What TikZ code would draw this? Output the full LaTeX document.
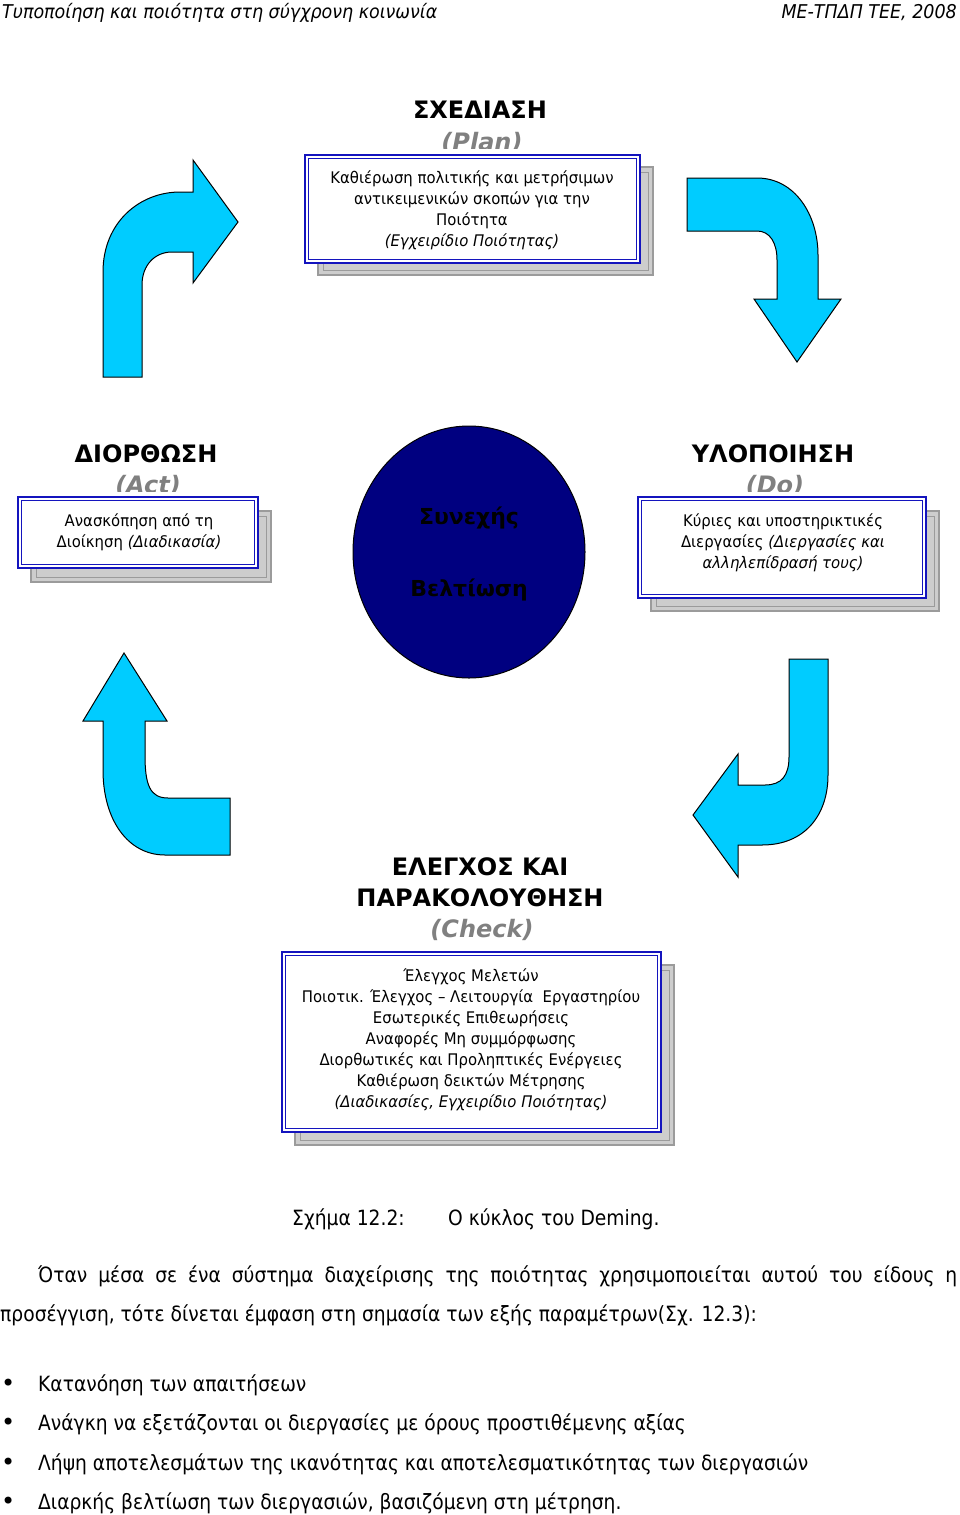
\documentclass[tikz,border=0pt]{standalone}
\usepackage{fontspec}
\setmainfont{DejaVu Sans}
\newfontfamily\condfont[FakeStretch=0.89]{DejaVu Sans}
\newfontfamily\headfont[FakeStretch=0.92]{DejaVu Sans}
\newfontfamily\boxfont[FakeStretch=0.93]{DejaVu Sans}
\usetikzlibrary{shapes.geometric}
\definecolor{arrowcyan}{RGB}{0,204,255}
\definecolor{boxblue}{RGB}{20,20,190}
\definecolor{navycirc}{RGB}{0,0,128}
\definecolor{engray}{RGB}{128,128,128}
\definecolor{shadowfill}{RGB}{205,205,205}
\definecolor{shadowline}{RGB}{155,155,155}
\tikzset{
  cyclearrow/.style={fill=arrowcyan, draw=black, line width=1pt, line join=miter},
  bluebox/.style={draw=boxblue, line width=2.6pt, fill=white, inner sep=0pt},
  innerline/.style={draw=boxblue, line width=1.2pt},
  shadowbox/.style={fill=shadowfill, draw=shadowline, line width=2.2pt},
  shadowinner/.style={draw=shadowline, line width=1pt},
  phasetitle/.style={font=\fontsize{24}{29}\selectfont\bfseries, anchor=base, align=center},
  phaseeng/.style={font=\fontsize{24}{29}\selectfont\bfseries\itshape, text=engray, anchor=base},
  boxtext/.style={font=\boxfont\fontsize{16}{21}\selectfont, align=center, inner sep=0pt},
  bodytext/.style={font=\condfont\fontsize{21}{25}\selectfont, anchor=base west, inner sep=0pt},
  headtext/.style={font=\headfont\itshape\fontsize{19}{23}\selectfont, inner sep=0pt},
}
\begin{document}
\begin{tikzpicture}[x=1pt,y=-1pt]
\useasboundingbox (0,0) rectangle (960,1515);

% header
\node[headtext, anchor=base west] (hl) at (2,19) {Τυποποίηση και ποιότητα στη σύγχρονη κοινωνία};
\node[headtext, anchor=base east] (hr) at (957,19) {ΜΕ-ΤΠΔΠ ΤΕΕ, 2008};

% arrows
\draw[cyclearrow] (103,377) -- (103,272) .. controls (103,222) and (140,192) .. (180,192) -- (193,192) -- (193,160) -- (238,222) -- (193,283) -- (193,252) -- (172,252) .. controls (155,252) and (142,265) .. (142,285) -- (142,377) -- cycle;
\draw[cyclearrow] (687,178) -- (757,178) .. controls (795,178) and (818,215) .. (818,255) -- (818,299) -- (841,299) -- (797,362) -- (754,299) -- (777,299) -- (777,260) .. controls (777,243) and (770,231) .. (757,231) -- (687,231) -- cycle;
\draw[cyclearrow] (124,653) -- (167,721) -- (145,721) -- (145,755) .. controls (145,785) and (150,798) .. (168,798) -- (230,798) -- (230,855) -- (165,855) .. controls (128,855) and (103,820) .. (103,770) -- (103,721) -- (83,721) -- cycle;
\draw[cyclearrow] (789,659) -- (828,659) -- (828,775) .. controls (828,815) and (805,845) .. (762,845) -- (738,845) -- (738,877) -- (693,815) -- (738,754) -- (738,785) -- (765,785) .. controls (782,785) and (789,775) .. (789,757) -- cycle;

% centre circle
\node[ellipse, fill=navycirc, draw=black, line width=1pt, minimum width=232pt, minimum height=252pt] (circ) at (469,552) {};
\node[font=\fontsize{22}{26}\selectfont\bfseries, text=black, anchor=base] (c1) at (469,524) {Συνεχής};
\node[font=\fontsize{22}{26}\selectfont\bfseries, text=black, anchor=base] (c2) at (469,596) {Βελτίωση};

% PLAN
\node[phasetitle] (tplan) at (480,118) {ΣΧΕΔΙΑΣΗ};
\begin{scope}
\clip (300,120) rectangle (660,148);
\node[phaseeng] (eplan) at (482,150) {(Plan)};
\end{scope}
\draw[shadowbox] (318,167) rectangle (653,275);
\draw[shadowinner] (323,172) rectangle (648,270);
\node[bluebox, minimum width=335pt, minimum height=108pt] (bplan) at (472.5,209) {};
\draw[innerline] ([shift={(4.5,4.5)}]bplan.north west) rectangle ([shift={(-4.5,-4.5)}]bplan.south east);
\node[boxtext] (xplan) at (472,210.5) {Καθιέρωση πολιτικής και μετρήσιμων\\αντικειμενικών σκοπών για την\\Ποιότητα\\\itshape (Εγχειρίδιο Ποιότητας)};

% ACT
\node[phasetitle] (tact) at (146,462) {ΔΙΟΡΘΩΣΗ};
\begin{scope}
\clip (0,465) rectangle (300,491);
\node[phaseeng] (eact) at (148,493) {(Act)};
\end{scope}
\draw[shadowbox] (31,511) rectangle (271,582);
\draw[shadowinner] (36,516) rectangle (266,577);
\node[bluebox, minimum width=240pt, minimum height=71pt] (bact) at (138,532.5) {};
\draw[innerline] ([shift={(4.5,4.5)}]bact.north west) rectangle ([shift={(-4.5,-4.5)}]bact.south east);
\node[boxtext] (xact) at (139,532) {Ανασκόπηση από τη\\Διοίκηση \itshape(Διαδικασία)};

% DO
\node[phasetitle] (tdo) at (773,462) {ΥΛΟΠΟΙΗΣΗ};
\begin{scope}
\clip (630,465) rectangle (960,491);
\node[phaseeng] (edo) at (775,493) {(Do)};
\end{scope}
\draw[shadowbox] (651,511) rectangle (939,611);
\draw[shadowinner] (656,516) rectangle (934,606);
\node[bluebox, minimum width=288pt, minimum height=101pt] (bdo) at (782,547.5) {};
\draw[innerline] ([shift={(4.5,4.5)}]bdo.north west) rectangle ([shift={(-4.5,-4.5)}]bdo.south east);
\node[boxtext] (xdo) at (783,543) {Κύριες και υποστηρικτικές\\Διεργασίες \itshape(Διεργασίες και\\\itshape αλληλεπίδρασή τους)};

% CHECK
\node[phasetitle] (tchk1) at (480,875) {ΕΛΕΓΧΟΣ ΚΑΙ};
\node[phasetitle] (tchk2) at (480,906) {ΠΑΡΑΚΟΛΟΥΘΗΣΗ};
\node[phaseeng] (echk) at (482,937) {(Check)};
\draw[shadowbox] (295,965) rectangle (674,1145);
\draw[shadowinner] (300,970) rectangle (669,1140);
\node[bluebox, minimum width=379pt, minimum height=180pt] (bchk) at (471.5,1042) {};
\draw[innerline] ([shift={(4.5,4.5)}]bchk.north west) rectangle ([shift={(-4.5,-4.5)}]bchk.south east);
\node[boxtext] (xchk) at (471,1040) {Έλεγχος Μελετών\\Ποιοτικ. Έλεγχος – Λειτουργία\ \ Εργαστηρίου\\Εσωτερικές Επιθεωρήσεις\\Αναφορές Μη συμμόρφωσης\\Διορθωτικές και Προληπτικές Ενέργειες\\Καθιέρωση δεικτών Μέτρησης\\\itshape(Διαδικασίες, Εγχειρίδιο Ποιότητας)};

% caption
\node[bodytext] (cap1) at (292,1225) {Σχήμα 12.2:};
\node[bodytext] (cap2) at (448,1225) {Ο κύκλος του Deming.};

% paragraph
\node[bodytext] (p1) at (38,1282) {\makebox[919pt][s]{Όταν μέσα σε ένα σύστημα διαχείρισης της ποιότητας χρησιμοποιείται αυτού του είδους η}};
\node[bodytext] (p2) at (0,1321) {προσέγγιση, τότε δίνεται έμφαση στη σημασία των εξής παραμέτρων(Σχ. 12.3):};

% bullets
\foreach \yy/\tx [count=\i] in {1391/{Κατανόηση των απαιτήσεων},1430/{Ανάγκη να εξετάζονται οι διεργασίες με όρους προστιθέμενης αξίας},1470/{Λήψη αποτελεσμάτων της ικανότητας και αποτελεσματικότητας των διεργασιών},1509/{Διαρκής βελτίωση των διεργασιών, βασιζόμενη στη μέτρηση.}}{
  \node[bodytext, font=\fontsize{24}{25}\selectfont] (bul\i) at (1,\yy) {•};
  \node[bodytext] (item\i) at (38,\yy) {\tx};
}
\end{tikzpicture}
\end{document}
